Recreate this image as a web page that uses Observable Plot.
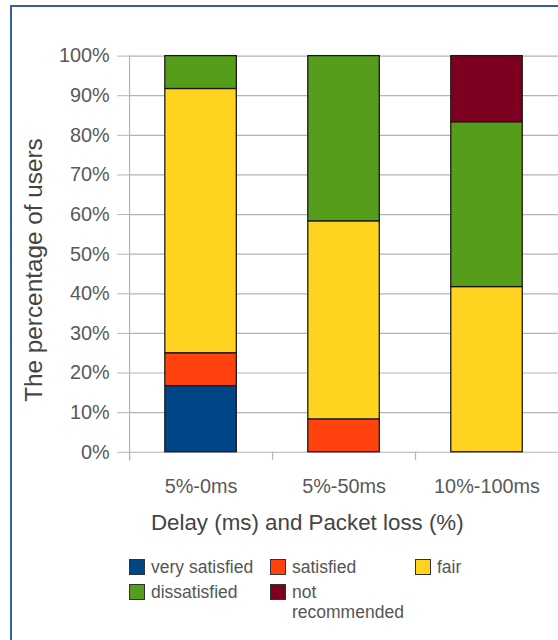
<!DOCTYPE html>
<html>
<head>
<meta charset="utf-8">
<script src="https://cdn.jsdelivr.net/npm/d3@7"></script>
<script src="https://cdn.jsdelivr.net/npm/@observablehq/plot@0.6"></script>
<style>
  html, body { margin: 0; padding: 0; background: #fff; }
  body { width: 558px; height: 640px; overflow: hidden; position: relative; font-family: "Liberation Sans", Arial, sans-serif; }
  #frame { position: absolute; left: 10px; top: 5px; width: 700px; height: 800px;
           border-left: 2px solid #34609e; border-top: 2px solid #34609e; pointer-events: none; }
  #chart { position: relative; width: 558px; overflow: hidden; }
  #chart svg { display: block; }
  #legend { position: relative; margin-top: 21px; padding-left: 129px;
            display: grid; grid-template-columns: 141px 145px 120px; row-gap: 5px;
            font-size: 17.5px; line-height: 20px; color: #555; }
  .item { display: flex; align-items: flex-start; }
  .sw { flex: none; width: 14px; height: 14px; border: 1px solid #333; margin: 2px 6px 0 0; }
  .lab { max-width: 118px; }
</style>
</head>
<body>
<div id="frame"></div>
<div id="chart"></div>
<div id="legend"></div>
<script>
// ---- data ----
const categories = ["5%-0ms", "5%-50ms", "10%-100ms"];
const levels = ["very satisfied", "satisfied", "fair", "dissatisfied", "not recommended"];
const verySatisfied = [16.7, 0, 0];
const satisfied = [8.3, 8.3, 0];
const fair = [66.7, 50.0, 41.7];
const dissatisfied = [8.3, 41.7, 41.6];
const notRecommended = [0, 0, 16.7];
const colors = ["#004586", "#ff420e", "#ffd320", "#579d1c", "#7e0021"];
const yTicks = [0, 10, 20, 30, 40, 50, 60, 70, 80, 90, 100];
const xTitle = "Delay (ms) and Packet loss (%)";
const yTitle = "The percentage of users";

const series = [verySatisfied, satisfied, fair, dissatisfied, notRecommended];
const data = [];
categories.forEach((c, i) => {
  levels.forEach((l, j) => {
    if (series[j][i] > 0) data.push({cat: c, level: l, value: series[j][i]});
  });
});

const tickFont = {fontSize: "20px", fill: "#595959"};

const plot = Plot.plot({
  width: 562,
  height: 540,
  marginLeft: 130,
  marginRight: 0,
  marginTop: 56,
  marginBottom: 85,
  style: {fontFamily: "Liberation Sans, Arial, sans-serif", background: "transparent", overflow: "visible"},
  x: {domain: categories, paddingInner: 0.5, paddingOuter: 0.25, label: null},
  y: {domain: [0, 100], label: null},
  color: {domain: levels, range: colors},
  marks: [
    Plot.gridY(yTicks, {stroke: "#b3b3b3", strokeOpacity: 1, strokeWidth: 1.2}),
    Plot.axisY(yTicks, {tickSize: 12, tickPadding: 8, stroke: "#b3b3b3", strokeOpacity: 1, tickFormat: d => d + "%", label: null, ...tickFont}),
    Plot.frame({anchor: "left", stroke: "#b3b3b3", strokeWidth: 1.2, insetBottom: -8}),
    Plot.ruleX(categories, {x: d => d, dx: -72, stroke: "#b3b3b3", strokeWidth: 1.2, insetTop: 399, insetBottom: -8}),
    Plot.barY(data, {x: "cat", y: "value", fill: "level", order: levels, stroke: "#1a1a1a", strokeWidth: 1.3}),
    Plot.axisX({tickSize: 0, tickPadding: 27, label: null, ...tickFont}),
    Plot.text([xTitle], {frameAnchor: "bottom", textAnchor: "middle", dx: -37, dy: 71, lineAnchor: "middle", fontSize: "22.5px", fill: "#444"}),
    Plot.text([yTitle], {frameAnchor: "left", textAnchor: "middle", rotate: -90, dx: -96, dy: 16, lineAnchor: "middle", fontSize: "24.5px", fill: "#444"})
  ]
});
document.getElementById("chart").appendChild(plot);

// ---- legend ----
const legend = document.getElementById("legend");
levels.forEach((l, j) => {
  const item = document.createElement("div");
  item.className = "item";
  const sw = document.createElement("span");
  sw.className = "sw";
  sw.style.background = colors[j];
  const lab = document.createElement("span");
  lab.className = "lab";
  lab.textContent = l;
  item.appendChild(sw);
  item.appendChild(lab);
  legend.appendChild(item);
});
</script>
</body>
</html>
